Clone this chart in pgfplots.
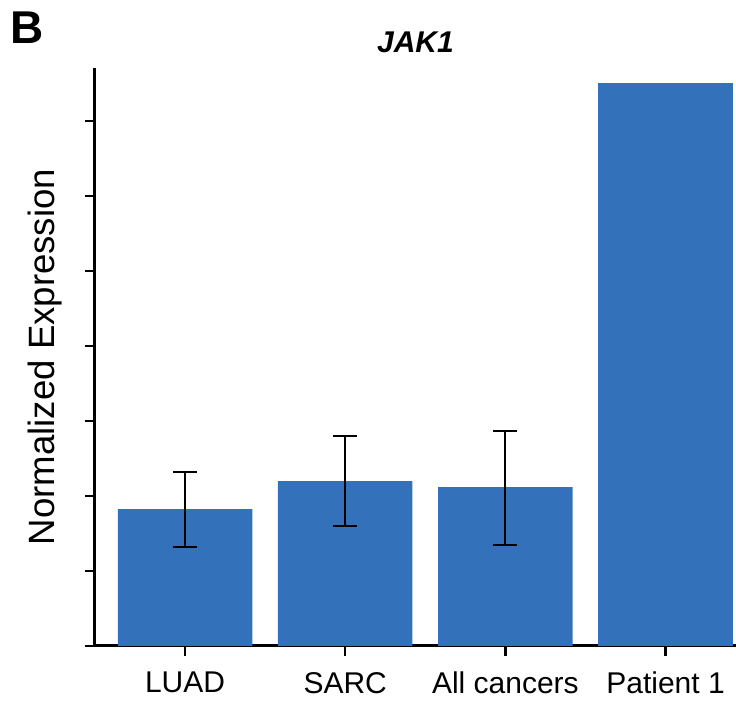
\documentclass[border=0pt]{standalone}
\usepackage{pgfplots}
\pgfplotsset{compat=1.18}
\usepackage{fontspec}
\setmainfont{Liberation Sans}
\definecolor{barblue}{RGB}{51,114,186}
\begin{document}
\begin{tikzpicture}
\begin{axis}[
  name=ax,
  scale only axis,
  width=320.5pt, height=289pt,
  xmin=-0.5625, xmax=3.44,
  ymin=0, ymax=7.71,
  axis lines=left,
  axis line style={-, line width=1.5pt},
  ytick={0,1,2,3,4,5,6,7},
  yticklabels={},
  xtick={0,1,2,3},
  xticklabels={LUAD,SARC,All cancers,Patient 1},
  tick align=outside,
  major tick length=5pt,
  tick style={line width=1.2pt, black},
  x tick label style={font=\fontsize{15}{18}\selectfont, yshift=-4.5pt},
  ylabel={Normalized Expression},
  ylabel style={font=\fontsize{18.3}{21}\selectfont, at={(axis description cs:0,0.5)}, anchor=center, rotate=0, yshift=25pt},
  title={\textbf{\textit{JAK1}}},
  title style={font=\fontsize{15}{18}\selectfont, at={(axis description cs:0.5,1)}, anchor=center, yshift=7pt},
  ybar, bar width=0.84, bar shift=0pt,
  clip=false,
]
\addplot[fill=barblue, draw=none,
  error bars/.cd, y dir=both, y explicit,
  error bar style={line width=1pt, black},
  error mark options={rotate=90, mark size=6pt, line width=1pt, black}]
  table[x=x, y=y, y error plus=ep, y error minus=em] {
  x y ep em
  0 1.827 0.493 0.507
  1 2.200 0.600 0.600
  2 2.120 0.747 0.773
};
\addplot[fill=barblue, draw=none] coordinates {(3,7.507)};
\node[font=\fontsize{23}{26}\selectfont\bfseries] at ([xshift=-34pt,yshift=20pt]rel axis cs:0,1) {B};
\end{axis}
\pgfresetboundingbox
\path[use as bounding box] ([xshift=-47.5pt,yshift=-27.5pt]ax.south west) rectangle ([yshift=34pt]ax.north east);
\end{tikzpicture}
\end{document}
